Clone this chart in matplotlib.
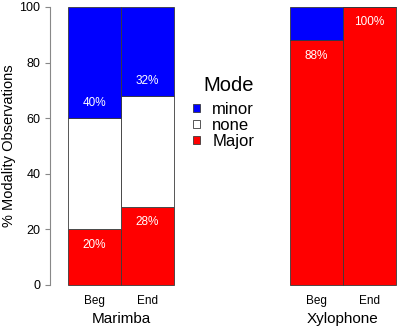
import numpy as np
import matplotlib
matplotlib.use('Agg')
import matplotlib.pyplot as plt
from matplotlib.patches import Patch

plt.rcParams['font.family'] = ['Liberation Sans', 'DejaVu Sans']

# data (percent of observations)
times = ['Beg', 'End']
instruments = ['Marimba', 'Xylophone']
major = {'Marimba': [20, 28], 'Xylophone': [88, 100]}
none = {'Marimba': [40, 40], 'Xylophone': [0, 0]}
minor = {'Marimba': [40, 32], 'Xylophone': [12, 0]}
show_minor_label = {'Marimba': True, 'Xylophone': False}

col_major = '#ff0000'
col_none = '#ffffff'
col_minor = '#0000ff'
edge = '#3a3a3a'

fig = plt.figure(figsize=(4.0, 3.31), dpi=100)
ax1 = fig.add_axes([0.17, 0.139, 0.265, 0.840])
ax2 = fig.add_axes([0.725, 0.139, 0.265, 0.840])

for ax, inst in zip([ax1, ax2], instruments):
    x = np.arange(len(times))
    mj = np.array(major[inst])
    nn = np.array(none[inst])
    mn = np.array(minor[inst])
    for vals, bot, col in [(mj, 0, col_major), (nn, mj, col_none), (mn, mj + nn, col_minor)]:
        bars = ax.bar(x, vals, bottom=bot, width=1.0, color=col, edgecolor=edge,
                      linewidth=0.6)
        for b in bars:
            b.set_clip_on(False)
    for i in range(len(times)):
        if mj[i] > 0:
            ax.text(x[i], mj[i] - 5.5, f'{mj[i]}%', color='white', ha='center',
                    va='center', fontsize=8.5)
        if mn[i] > 0 and show_minor_label[inst]:
            ax.text(x[i], mj[i] + nn[i] + 5.5, f'{mn[i]}%', color='white',
                    ha='center', va='center', fontsize=8.5)
    ax.set_xlim(-0.5, 1.5)
    ax.set_ylim(0, 100)
    ax.set_xticks(x)
    ax.set_xticklabels(times, fontsize=8.5)
    ax.tick_params(axis='x', length=0, pad=7)
    ax.set_xlabel(inst, fontsize=11, labelpad=4)
    for s in ['top', 'right', 'bottom']:
        ax.spines[s].set_visible(False)

ax1.spines['left'].set_position(('outward', 13))
ax1.spines['left'].set_color('#888888')
ax1.set_yticks([0, 20, 40, 60, 80, 100])
ax1.tick_params(axis='y', labelsize=9, length=3.5, pad=3.5, color='#888888')
ax1.set_ylabel('% Modality Observations', fontsize=10.5)
ax1.yaxis.set_label_coords(-0.49, 0.5)

ax2.spines['left'].set_visible(False)
ax2.set_yticks([])

handles = [Patch(facecolor=col_minor, edgecolor=edge, linewidth=0.6),
           Patch(facecolor=col_none, edgecolor=edge, linewidth=0.6),
           Patch(facecolor=col_major, edgecolor=edge, linewidth=0.6)]
leg = fig.legend(handles, ['minor', 'none', 'Major'], title='Mode',
                 loc='upper left', bbox_to_anchor=(0.465, 0.79), frameon=False,
                 fontsize=12, title_fontsize=14.5, handlelength=0.42,
                 handleheight=0.42, handletextpad=0.75, labelspacing=0.05,
                 borderaxespad=0)
leg._legend_box.sep = 5
leg._legend_box.align = 'right'

fig.savefig('out.png', dpi=100)
